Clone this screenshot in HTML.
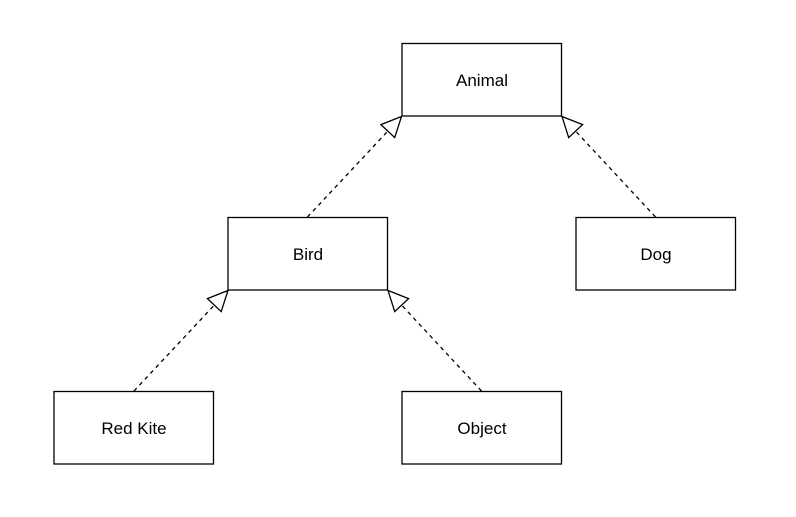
<!DOCTYPE html>
<html><head><meta charset="utf-8"><style>
html,body{margin:0;padding:0;background:#fff;}
svg{display:block;}
text{font-family:"Liberation Sans",Arial,sans-serif;font-size:17px;fill:#000;}
</style></head><body>
<svg width="796" height="517" viewBox="0 0 796 517" xmlns="http://www.w3.org/2000/svg">
<g fill="#fff" stroke="#000" stroke-width="1.3">
<rect x="402" y="43.5" width="159.5" height="72.5"/>
<rect x="228" y="217.5" width="159.5" height="72.5"/>
<rect x="576" y="217.5" width="159.5" height="72.5"/>
<rect x="54" y="391.5" width="159.5" height="72.5"/>
<rect x="402" y="391.5" width="159.5" height="72.5"/>
</g>
<g stroke="#000" stroke-width="1.3" stroke-dasharray="4,4" fill="none">
<line x1="307.5" y1="217" x2="387.8" y2="131.1"/>
<line x1="655.5" y1="217" x2="575.6" y2="131.1"/>
<line x1="134" y1="391" x2="214.3" y2="305.1"/>
<line x1="481.5" y1="391" x2="401.6" y2="305.1"/>
</g>
<g stroke="#000" stroke-width="1.3" fill="#fff">
<polygon points="401.5,116.5 380.9,124.6 394.7,137.6"/>
<polygon points="562,116.5 582.6,124.6 568.7,137.6"/>
<polygon points="228,290.5 207.4,298.6 221.2,311.6"/>
<polygon points="388,290.5 408.6,298.6 394.7,311.6"/>
</g>
<g text-anchor="middle">
<text x="482" y="86">Animal</text>
<text x="308" y="260">Bird</text>
<text x="656" y="260">Dog</text>
<text x="134" y="434">Red Kite</text>
<text x="482" y="434">Object</text>
</g>
</svg>
</body></html>
